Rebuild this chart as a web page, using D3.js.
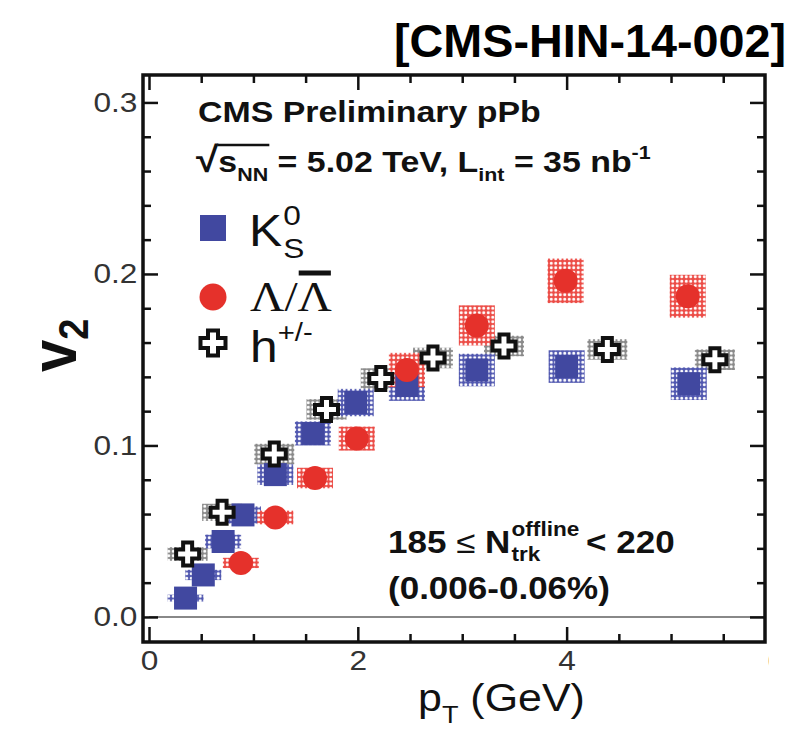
<!DOCTYPE html>
<html>
<head>
<meta charset="utf-8">
<script src="https://cdn.jsdelivr.net/npm/d3@7"></script>
<style>
  body { margin: 0; background: #fff; }
  svg { display: block; font-family: "Liberation Sans", Arial, sans-serif; }
</style>
</head>
<body>
<svg class="chart"></svg>
<script>
// K0S
const ptK  = [0.35, 0.52, 0.71, 0.90, 1.21, 1.57, 1.98, 2.47, 3.14, 4.00, 5.17];
const v2K  = [0.011, 0.0245, 0.044, 0.0595, 0.083, 0.107, 0.125, 0.135, 0.144, 0.146, 0.136];
const sysK = [0.002, 0.003, 0.004, 0.005, 0.006, 0.007, 0.008, 0.009, 0.0095, 0.0095, 0.0095];
// Lambda
const ptL  = [0.88, 1.21, 1.59, 1.99, 2.47, 3.14, 3.99, 5.16];
const v2L  = [0.0315, 0.058, 0.081, 0.104, 0.144, 0.170, 0.196, 0.187];
const sysL = [0.003, 0.004, 0.006, 0.007, 0.010, 0.0117, 0.013, 0.0125];
// charged hadrons
const ptH  = [0.37, 0.70, 1.20, 1.70, 2.22, 2.72, 3.40, 4.39, 5.42];
const v2H  = [0.0367, 0.061, 0.095, 0.121, 0.139, 0.151, 0.158, 0.156, 0.150];
const sysH = [0.004, 0.005, 0.006, 0.006, 0.006, 0.006, 0.006, 0.006, 0.006];

const xMajor = [0, 2, 4, 6];
const yMajor = [0, 0.1, 0.2, 0.3];
const yLabels = ['0.0', '0.1', '0.2', '0.3'];

const W = 798, H = 731;
const SX = 1.13; // the original figure is a bit stretched sideways
const blue = '#4148a0', red = '#e5312b';

const svg = d3.select('.chart').attr('width', W).attr('height', H);

const x = d3.scaleLinear().domain([0, 5.9]).range([149, 765]);
const y = d3.scaleLinear().domain([-0.0146, 0.316]).range([642, 75]);

// dotted fill for the systematic boxes
const defs = svg.append('defs');
function dotPattern(id, col) {
  const p = defs.append('pattern').attr('id', id)
    .attr('patternUnits', 'userSpaceOnUse').attr('width', 4.5).attr('height', 4.5);
  p.append('rect').attr('width', 4.5).attr('height', 4.5).attr('fill', col);
  p.append('circle').attr('cx', 2.25).attr('cy', 2.25).attr('r', 1.5).attr('fill', '#fff');
}
dotPattern('dotBlue', '#5158b0');
dotPattern('dotRed', '#ec4c46');
dotPattern('dotGray', '#8a8a8a');

defs.append('clipPath').attr('id', 'crop')
  .append('rect').attr('x', 0).attr('y', 0).attr('width', 769).attr('height', H);

const g = svg.append('g').attr('clip-path', 'url(#crop)');

// zero line
g.append('line')
  .attr('x1', x(0)).attr('x2', x(5.9)).attr('y1', y(0)).attr('y2', y(0))
  .attr('stroke', '#888').attr('stroke-width', 2);

// axes (ticks pointing inward on all four sides)
const xMinor = d3.range(0.5, 5.9, 0.5).filter(d => d % 2 !== 0);
const yMinor = d3.range(0.02, 0.31, 0.02).filter(d => Math.abs(d * 10 - Math.round(d * 10)) > 1e-6);

function drawAxis(axis, tx, ty, labels) {
  const a = g.append('g').attr('transform', `translate(${tx},${ty})`).call(axis);
  a.select('.domain').remove();
  a.selectAll('.tick line').attr('stroke', '#111').attr('stroke-width', 2.5);
  if (!labels) a.selectAll('.tick text').remove();
  return a;
}
const xb = drawAxis(d3.axisBottom(x).tickValues(xMajor).tickSize(-15).tickPadding(8).tickFormat(d3.format('d')), 0, 642, true);
drawAxis(d3.axisBottom(x).tickValues(xMinor).tickSize(-8), 0, 642, false);
drawAxis(d3.axisTop(x).tickValues(xMajor.filter(d => d < 5.9)).tickSize(-15), 0, 75, false);
drawAxis(d3.axisTop(x).tickValues(xMinor).tickSize(-8), 0, 75, false);
xb.selectAll('.tick text').attr('font-size', 28).attr('fill', '#333')
  .attr('transform', `scale(${SX},1)`).attr('dy', '0.71em');

const yl = drawAxis(d3.axisLeft(y).tickValues(yMajor).tickSize(-15).tickPadding(8)
  .tickFormat((d, i) => yLabels[i]), 143, 0, true);
drawAxis(d3.axisLeft(y).tickValues(yMinor).tickSize(-8), 143, 0, false);
drawAxis(d3.axisRight(y).tickValues(yMajor).tickSize(-15), 765, 0, false);
drawAxis(d3.axisRight(y).tickValues(yMinor).tickSize(-8), 765, 0, false);
yl.selectAll('.tick text').attr('font-size', 28).attr('fill', '#333')
  .attr('text-anchor', 'end').attr('x', -5)
  .attr('transform', `scale(${SX},1)`);

// frame
g.append('rect').attr('x', 143).attr('y', 75).attr('width', 765 - 143).attr('height', 642 - 75)
  .attr('fill', 'none').attr('stroke', '#111').attr('stroke-width', 3.5);

// systematic boxes
function sysBoxes(pt, v, s, fill, w) {
  g.append('g').selectAll('rect').data(pt).join('rect')
    .attr('x', d => x(d) - w / 2)
    .attr('y', (d, i) => y(v[i] + s[i]))
    .attr('width', w)
    .attr('height', (d, i) => y(v[i] - s[i]) - y(v[i] + s[i]))
    .attr('fill', fill);
}
sysBoxes(ptH, v2H, sysH, 'url(#dotGray)', 40);
sysBoxes(ptK, v2K, sysK, 'url(#dotBlue)', 36);
sysBoxes(ptL, v2L, sysL, 'url(#dotRed)', 36);

// markers
const sq = 23, rc = 12;
function plusPath(s, a) {
  return `M${-a},${-s}H${a}V${-a}H${s}V${a}H${a}V${s}H${-a}V${a}H${-s}V${-a}H${-a}Z`;
}
g.append('g').selectAll('rect').data(ptK).join('rect')
  .attr('x', d => x(d) - sq / 2).attr('y', (d, i) => y(v2K[i]) - sq / 2)
  .attr('width', sq).attr('height', sq).attr('fill', blue);
g.append('g').selectAll('circle').data(ptL).join('circle')
  .attr('cx', d => x(d)).attr('cy', (d, i) => y(v2L[i])).attr('r', rc).attr('fill', red);
g.append('g').selectAll('path').data(ptH).join('path')
  .attr('transform', (d, i) => `translate(${x(d)},${y(v2H[i])})`)
  .attr('d', plusPath(11.5, 4.5))
  .attr('fill', '#fff').attr('stroke', '#111').attr('stroke-width', 4)
  .attr('stroke-linejoin', 'miter');

// text helper: a stretched text group
function label(tx, ty, size, weight) {
  return g.append('g').attr('transform', `translate(${tx},${ty}) scale(${SX},1)`)
    .append('text').attr('font-size', size).attr('font-weight', weight).attr('fill', '#111');
}
const endX = sel => { const n = sel.node(); const k = n.getNumberOfChars(); const e = n.getExtentOfChar(k - 1); return e.x + e.width; };

label(198, 122, 30, 'bold').text('CMS Preliminary pPb');

const t2 = label(196, 172, 30, 'bold');
t2.append('tspan').attr('font-size', 36).text('√');
t2.append('tspan').text('s');
t2.append('tspan').attr('font-size', 19).attr('dy', 9).text('NN');
t2.append('tspan').attr('dy', -9).text(' = 5.02 TeV, L');
t2.append('tspan').attr('font-size', 19).attr('dy', 9).text('int');
t2.append('tspan').attr('dy', -9).text(' = 35 nb');
t2.append('tspan').attr('font-size', 19).attr('dy', -13).text('-1');
{
  const n = t2.node();
  const a = n.getExtentOfChar(0), b = n.getExtentOfChar(3);
  d3.select(n.parentNode).append('line')
    .attr('x1', a.x + a.width - 1).attr('x2', b.x + b.width + 1)
    .attr('y1', -27).attr('y2', -27).attr('stroke', '#111').attr('stroke-width', 2.5);
}

// legend
g.append('rect').attr('x', 200).attr('y', 215).attr('width', 26).attr('height', 26).attr('fill', blue);
const tk = label(249, 246, 44, 'normal');
tk.append('tspan').text('K');
const kEnd = endX(tk);
const tkp = d3.select(tk.node().parentNode);
tkp.append('text').attr('x', kEnd + 1).attr('y', -21).attr('font-size', 28).attr('fill', '#111').text('0');
tkp.append('text').attr('x', kEnd + 1).attr('y', 12).attr('font-size', 28).attr('fill', '#111').text('S');

g.append('circle').attr('cx', 213).attr('cy', 297).attr('r', 13.5).attr('fill', red);
const tl = label(250, 311, 42, 'normal').attr('font-family', '"Liberation Serif", "Times New Roman", serif');
tl.append('tspan').text('Λ/Λ');
{
  const n = tl.node();
  const c = n.getExtentOfChar(2);
  d3.select(n.parentNode).append('line')
    .attr('x1', c.x + 1).attr('x2', c.x + c.width - 1)
    .attr('y1', -38).attr('y2', -38).attr('stroke', '#111').attr('stroke-width', 5);
}

g.append('path').attr('transform', 'translate(213,343)').attr('d', plusPath(12.5, 5))
  .attr('fill', '#fff').attr('stroke', '#111').attr('stroke-width', 4);
const th = label(250, 362, 44, 'normal');
th.append('tspan').text('h');
th.append('tspan').attr('font-size', 26).attr('dy', -21).text('+/-');

// selection text
const t3 = label(388, 553, 31, 'bold');
t3.append('tspan').text('185 ');
t3.append('tspan').attr('font-weight', 'normal').text('≤ ');
t3.append('tspan').text('N');
{
  const nEnd = endX(t3);
  const p = d3.select(t3.node().parentNode);
  const sup = p.append('text').attr('x', nEnd + 1).attr('y', -17).attr('font-size', 20)
    .attr('font-weight', 'bold').attr('fill', '#111').text('offline');
  p.append('text').attr('x', nEnd + 1).attr('y', 8).attr('font-size', 20)
    .attr('font-weight', 'bold').attr('fill', '#111').text('trk');
  p.append('text').attr('x', endX(sup) + 6).attr('y', 0).attr('font-size', 31)
    .attr('font-weight', 'bold').attr('fill', '#111').text('< 220');
}
label(388, 599, 31, 'bold').text('(0.006-0.06%)');

// axis titles
const ty = g.append('g').attr('transform', 'translate(76,372) rotate(-90) scale(1,1.13)')
  .append('text').attr('font-size', 58).attr('font-weight', 'bold').attr('fill', '#111');
ty.append('tspan').text('v');
ty.append('tspan').attr('font-size', 38).attr('dy', 11).text('2');

const tx = label(418, 711, 38, 'normal');
tx.append('tspan').text('p');
tx.append('tspan').attr('font-size', 24).attr('dy', 12).text('T');
tx.append('tspan').attr('dy', -12).text(' (GeV)');

// report number
svg.append('text').attr('x', 786).attr('y', 57).attr('text-anchor', 'end')
  .attr('font-size', 47).attr('font-weight', 'bold').attr('fill', '#000')
  .attr('textLength', 392).attr('lengthAdjust', 'spacingAndGlyphs')
  .text('[CMS-HIN-14-002]');
</script>
</body>
</html>
